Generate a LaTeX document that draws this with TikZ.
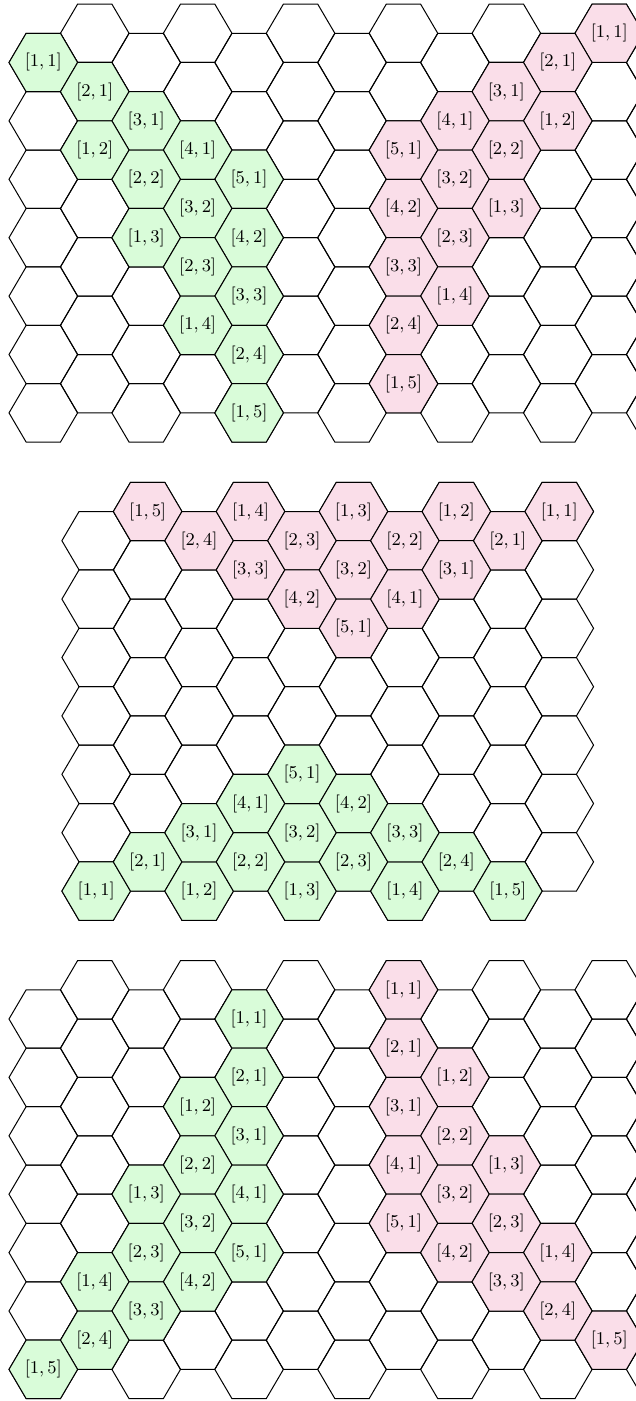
\documentclass[tikz,border=0pt]{standalone}
\usepackage{tikz}
\usepackage{amsmath}

\definecolor{cellgreen}{RGB}{217,252,217}
\definecolor{cellpink}{RGB}{250,222,233}

\tikzset{
    hexline/.style={black, line width=0.5pt, line join=miter},
    cell label/.style={font=\small, inner sep=0pt},
}

% one hexagon centred at (#1,#2), filled with #3
\newcommand{\hexat}[3]{%
    \draw[hexline, fill=#3] (#1-34.3,#2) -- (#1-17.15,#2-29.2) -- (#1+17.15,#2-29.2)
        -- (#1+34.3,#2) -- (#1+17.15,#2+29.2) -- (#1-17.15,#2+29.2) -- cycle;}

% the empty grid: #1 x of column 0, #2 y of the first even cell, #3 last column
\newcommand{\hexgrid}[3]{%
    \foreach \i in {0,...,#3}
        \foreach \k in {0,...,6} {
            \pgfmathsetmacro\cx{#1+51.45*\i}
            \pgfmathsetmacro\cy{#2+58.4*\k-29.2*mod(\i,2)}
            \hexat{\cx}{\cy}{none}
        }}

% coloured cells, given as column/row/first/second
\newcommand{\hexmarks}[5]{%
    \foreach \i/\k/\a/\b in {#5} {
        \pgfmathsetmacro\cx{#1+51.45*\i}
        \pgfmathsetmacro\cy{#2+58.4*\k-29.2*mod(\i,2)}
        \hexat{\cx}{\cy}{#3}
        \node[cell label] (#4-\a-\b) at (\cx,\cy) {$[\a,\b]$};
    }}

\begin{document}
\begin{tikzpicture}[x=0.5pt, y=-0.5pt]
    \useasboundingbox (0,0) rectangle (636,1401);
    \clip (0,0) rectangle (636,1401);
    % Top grid.
        \hexgrid{43.3}{62.5}{12}
        \hexmarks{43.3}{62.5}{cellgreen}{tg}{0/0/1/1, 1/1/2/1, 2/1/3/1, 1/2/1/2, 3/2/4/1,
            2/2/2/2, 4/2/5/1, 3/3/3/2, 2/3/1/3, 4/3/4/2, 3/4/2/3, 4/4/3/3, 3/5/1/4,
            4/5/2/4, 4/6/1/5}
        \hexmarks{43.3}{62.5}{cellpink}{tp}{11/0/1/1, 10/0/2/1, 9/1/3/1, 8/1/4/1, 7/2/5/1,
            10/1/1/2, 9/2/2/2, 8/2/3/2, 7/3/4/2, 9/3/1/3, 8/3/2/3, 7/4/3/3, 8/4/1/4,
            7/5/2/4, 7/6/1/5}
    % Middle grid.
        \hexgrid{96.2}{540.7}{9}
        \hexmarks{96.2}{540.7}{cellpink}{mp}{1/0/1/5, 2/0/2/4, 3/0/1/4, 3/1/3/3, 4/0/2/3,
            4/1/4/2, 5/0/1/3, 5/1/3/2, 5/2/5/1, 6/0/2/2, 6/1/4/1, 7/0/1/2, 7/1/3/1,
            8/0/2/1, 9/0/1/1}
        \hexmarks{96.2}{540.7}{cellgreen}{mg}{0/6/1/1, 1/6/2/1, 2/6/1/2, 2/5/3/1, 3/6/2/2,
            3/5/4/1, 4/6/1/3, 4/5/3/2, 4/4/5/1, 5/6/2/3, 5/5/4/2, 6/6/1/4, 6/5/3/3,
            7/6/2/4, 8/6/1/5}
    % Bottom grid.
        \hexgrid{43.3}{1019}{12}
        \hexmarks{43.3}{1019}{cellgreen}{bg}{4/0/1/1, 4/1/2/1, 3/2/1/2, 4/2/3/1, 3/3/2/2,
            2/3/1/3, 4/3/4/1, 3/4/3/2, 2/4/2/3, 4/4/5/1, 1/5/1/4, 3/5/4/2, 2/5/3/3,
            1/6/2/4, 0/6/1/5}
        \hexmarks{43.3}{1019}{cellpink}{bp}{7/0/1/1, 7/1/2/1, 8/1/1/2, 7/2/3/1, 8/2/2/2,
            7/3/4/1, 9/3/1/3, 8/3/3/2, 7/4/5/1, 9/4/2/3, 8/4/4/2, 10/4/1/4, 9/5/3/3,
            10/5/2/4, 11/6/1/5}
\end{tikzpicture}
\end{document}
